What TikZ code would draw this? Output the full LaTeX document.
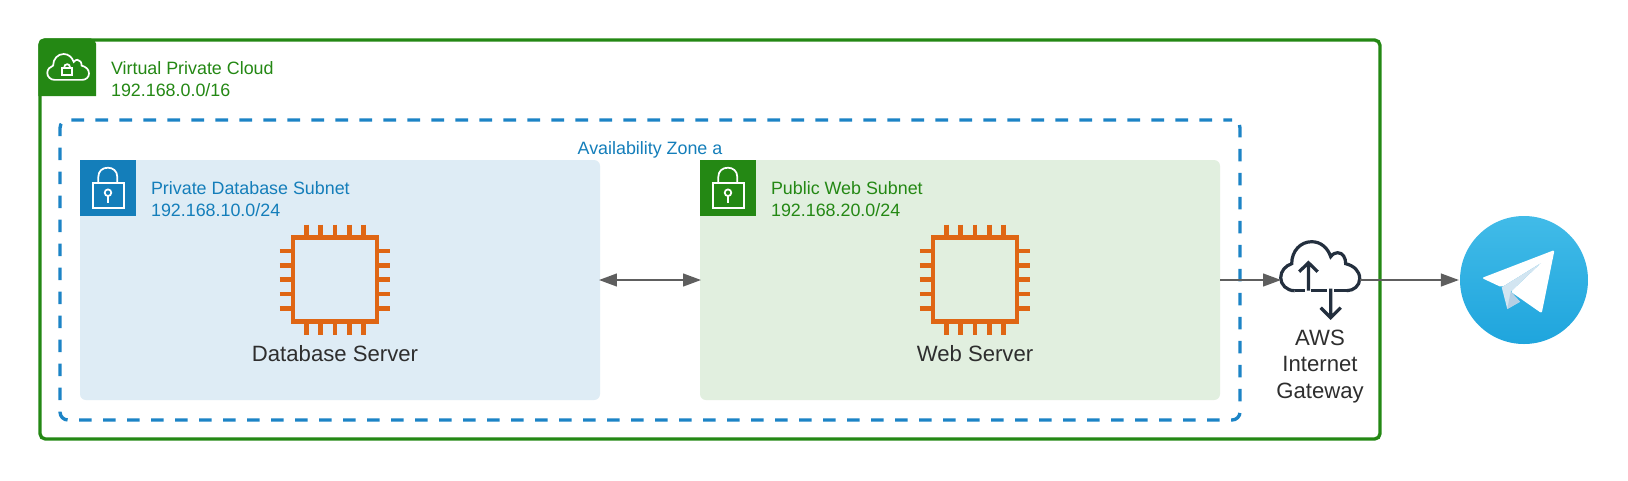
\documentclass[tikz,border=0pt]{standalone}
\usepackage{fontspec}
\setmainfont{Liberation Sans}
\usetikzlibrary{arrows.meta}
\definecolor{vpcgreen}{HTML}{248814}
\definecolor{awsblue}{HTML}{147EBA}
\definecolor{dashblue}{HTML}{1C84C6}
\definecolor{dbfill}{HTML}{DEECF5}
\definecolor{webfill}{HTML}{E1EFDF}
\definecolor{chiporange}{HTML}{DF6614}
\definecolor{clouddark}{HTML}{232F3E}
\definecolor{linkgrey}{HTML}{5E5E5E}
\definecolor{labeldark}{HTML}{2E2E2E}
\definecolor{tgtop}{HTML}{41BBE8}
\definecolor{tgbottom}{HTML}{1FA5DD}
\definecolor{planelight}{HTML}{D2E5F1}
\definecolor{planeshade}{HTML}{B5CFE4}
\newcommand{\cloudoutline}{(14,49) .. controls (6,49) and (0,43) .. (0,36) .. controls (0,29) and (5,24) .. (11,22) .. controls (11,9) and (20,0) .. (31,0) .. controls (40,0) and (47,6) .. (50,15) .. controls (52,12) and (55,11) .. (57,11) .. controls (62,11) and (65,16) .. (65,22) .. controls (73,24) and (79,29) .. (79,37) .. controls (79,44) and (73,49) .. (66,49)}
\tikzset{
  vpcbox/.style={draw=vpcgreen,line width=2.5pt,rounded corners=4pt,fill=white,minimum width=1005pt,minimum height=299.25pt,inner sep=0pt},
  zonebox/.style={draw=dashblue,line width=2.5pt,rounded corners=6pt,dash pattern=on 9.4pt off 8.6pt,dash phase=3pt,minimum width=885pt,minimum height=225pt,inner sep=0pt},
  subnetbox/.style={rounded corners=4.5pt,minimum width=390pt,minimum height=180pt,inner sep=0pt},
  link/.style={draw=linkgrey,line width=1.6pt,shorten >=-1pt,-{Triangle[length=13.5pt,width=9.5pt]}},
  biglink/.style={draw=linkgrey,line width=1.6pt,shorten >=-1pt,shorten <=-1pt,{Triangle[length=13.5pt,width=9.5pt]}-{Triangle[length=13.5pt,width=9.5pt]}},
  grouplabel/.style={inner sep=0pt,anchor=north west,align=left,font=\fontsize{13.4}{16.3}\selectfont},
  serverlabel/.style={inner sep=0pt,anchor=base,text=labeldark,font=\fontsize{16.6}{20}\selectfont},
  iconline/.style={draw=white,line width=1.3pt},
  lockpic/.pic={
    \draw[iconline] (12.7,23.3) rectangle (43.7,48.3);
    \draw[iconline] (18.3,23.3) -- (18.3,17) .. controls (18.3,11) and (22.5,7.7) .. (27.8,7.7) .. controls (33,7.7) and (37.3,11) .. (37.3,17) -- (37.3,23.3);
    \draw[iconline] (28,32.7) circle[radius=3.3];
    \draw[iconline] (28,36) -- (28,43.3);
  },
  chippic/.pic={
    \foreach \k in {-28.6,-14.3,0,14.3,28.6}{
      \draw[chiporange,line width=3.6pt] (-55,\k) -- (-44,\k);
      \draw[chiporange,line width=3.6pt] (44,\k) -- (55,\k);
      \draw[chiporange,line width=3.6pt] (\k,-55) -- (\k,-44);
      \draw[chiporange,line width=3.6pt] (\k,44) -- (\k,55);
    }
    \draw[chiporange,line width=3.6pt] (-42,-42) rectangle (42,42);
  }
}
\begin{document}
\begin{tikzpicture}[x=.75pt,y=-.75pt]
\useasboundingbox (0,0) rectangle (1628,480);
% VPC
\node[vpcbox] (vpc) at (710,239.5) {};
\fill[vpcgreen,rounded corners=4pt] (38.4,96) -- (38.4,38.4) -- (96,38.4) [sharp corners] -- (96,96) -- cycle;
\begin{scope}[shift={(47.3,54)},scale=.528]
  \draw[iconline] \cloudoutline -- cycle;
\end{scope}
\draw[iconline] (62.3,68.3) rectangle (72,75);
\draw[iconline] (64,68.3) .. controls (64,62.8) and (70.3,62.8) .. (70.3,68.3);
\node[grouplabel,text=vpcgreen] (vpclabel) at (110.8,61.5) {Virtual Private Cloud\\192.168.0.0/16};
% zone
\node[zonebox] (zone) at (650,270) {};
\node[inner sep=0pt,anchor=base,text=awsblue,font=\fontsize{13.4}{16}\selectfont] (zonelabel) at (650,154) {Availability Zone a};
% subnets
\node[subnetbox,fill=dbfill] (db) at (340,280) {};
\node[subnetbox,fill=webfill] (web) at (960,280) {};
\fill[awsblue] (80,160) rectangle (136,216);
\fill[vpcgreen] (700,160) rectangle (756,216);
\pic at (80,160) {lockpic};
\pic at (700,160) {lockpic};
\node[grouplabel,text=awsblue] (dblabel) at (150.8,181.4) {Private Database Subnet\\192.168.10.0/24};
\node[grouplabel,text=vpcgreen] (weblabel) at (770.8,181.4) {Public Web Subnet\\192.168.20.0/24};
% chips
\pic at (334.9,279.6) {chippic};
\pic at (974.9,279.6) {chippic};
\node[serverlabel] (dbname) at (335,361) {Database Server};
\node[serverlabel] (webname) at (975,361) {Web Server};
% gateway and Telegram
\node[minimum width=60pt,minimum height=1pt,inner sep=0pt] (igw) at (1320,280) {};
\node[circle,minimum size=96pt,inner sep=0pt,top color=tgtop,bottom color=tgbottom,draw=none] (tg) at (1524,280) {};
\begin{scope}[shift={(1280.7,241.7)}]
  \draw[clouddark,line width=2.4pt] \cloudoutline;
  \draw[clouddark,line width=2.4pt] (66,49) -- (53,49) (46,49) -- (30,49) (24,49) -- (14,49);
  \draw[clouddark,line width=2.4pt] (27.7,49) -- (27.7,21) (18.5,30) -- (27.7,21) -- (37,30);
  \draw[clouddark,line width=2.4pt] (50,47) -- (50,76) (40,66) -- (50,76) -- (60,66);
\end{scope}
\node[inner sep=0pt,anchor=north,align=center,text=labeldark,font=\fontsize{16.6}{19.9}\selectfont] (igwlabel) at (1320,329.5) {AWS\\Internet\\Gateway};
% plane
\fill[white,rounded corners=1.5pt] (1481.8,278) -- (1554.5,250) -- (1541.7,313.3) -- (1510.7,291.7) -- (1541,263) -- (1501.7,287.3) -- cycle;
\fill[planelight] (1501.7,287.3) -- (1541,263) -- (1510.7,291.7) -- (1520,301.7) -- (1507.3,309) -- cycle;
\fill[planeshade] (1510.7,291.7) -- (1520,301.7) -- (1507.3,309) -- cycle;
% connectors
\draw[biglink] (db.east) -- (web.west);
\draw[link] (web.east) -- (igw.west);
\draw[link,shorten >=.6pt] (igw.east) -- (tg.west);
\end{tikzpicture}
\end{document}
